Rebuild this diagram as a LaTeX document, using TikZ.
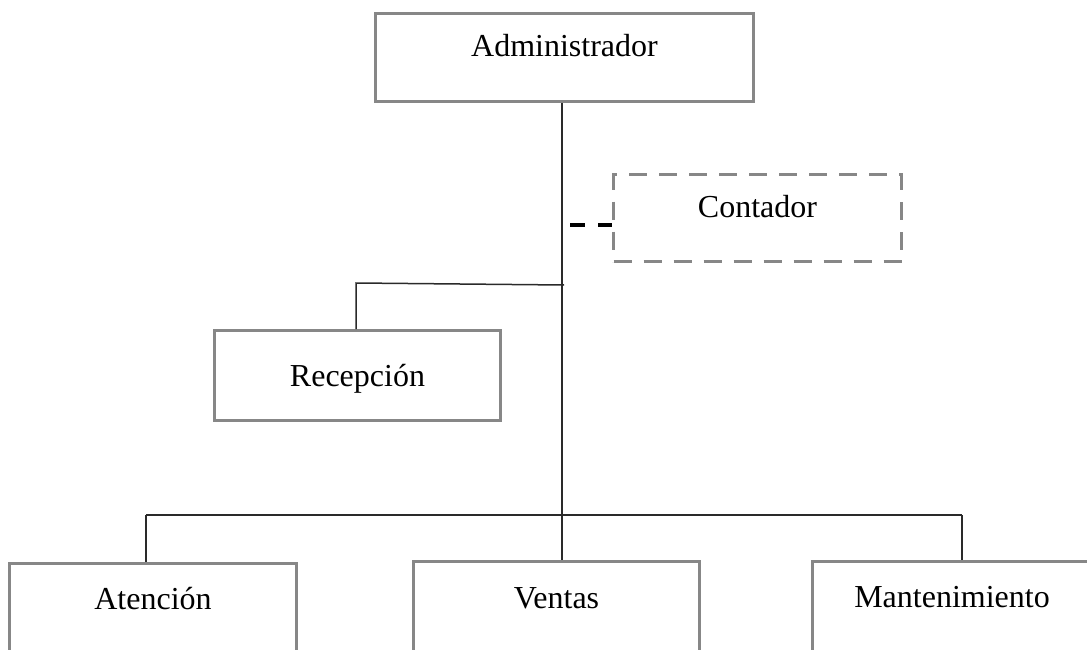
\documentclass[tikz,border=0pt]{standalone}
\usepackage{fontspec}
\setmainfont{Liberation Serif}
\definecolor{boxgray}{HTML}{878787}
\definecolor{linegray}{HTML}{2A2A2A}
\begin{document}
\begin{tikzpicture}[x=1pt,y=-1pt,
  box/.style={draw=boxgray, line width=3pt, inner sep=0pt, anchor=north west,
    font=\fontsize{32}{38}\selectfont, align=center},
  dbox/.style={box, dash pattern=on 18pt off 12pt},
  conn/.style={draw=linegray, line width=1.5pt},
  dconn/.style={draw=black, line width=4pt, dash pattern=on 15pt off 13pt}]
\useasboundingbox (0,0) rectangle (1087,650);
\node[box, minimum width=378pt, text height=43pt, text depth=45pt] (adm) at (374,12) {Administrador};
\node[dbox, minimum width=288pt, text height=43pt, text depth=44pt] (con) at (612,173) {Contador};
\node[box, minimum width=286pt, text height=56pt, text depth=34pt] (rec) at (213,329) {Recepción};
\node[box, minimum width=287pt, text height=46pt, text depth=43pt] (ate) at (8,562) {Atención};
\node[box, minimum width=286pt, text height=47pt, text depth=44pt] (ven) at (412,560) {Ventas};
\node[box, minimum width=279pt, text height=46pt, text depth=45pt] (man) at (811,560) {Mantenimiento};
% trunk
\coordinate (vtop) at (562,560);
\draw[conn] (adm.south -| vtop) -- (vtop);
% contador (dashed)
\coordinate (cj) at (562,225);
\draw[dconn, shorten <=8pt] (cj) -- (con.west |- cj);
% recepcion
\coordinate (rj) at (564,285);
\coordinate (rk) at (356,283);
\draw[conn] (rj) -- (rk) -- (rk |- rec.north);
% bottom branch
\coordinate (b1) at (146,515);
\coordinate (b2) at (962,515);
\draw[conn] (b1) -- (b2);
\draw[conn] (b1) -- (b1 |- ate.north);
\draw[conn] (b2) -- (b2 |- man.north);
\end{tikzpicture}
\end{document}
